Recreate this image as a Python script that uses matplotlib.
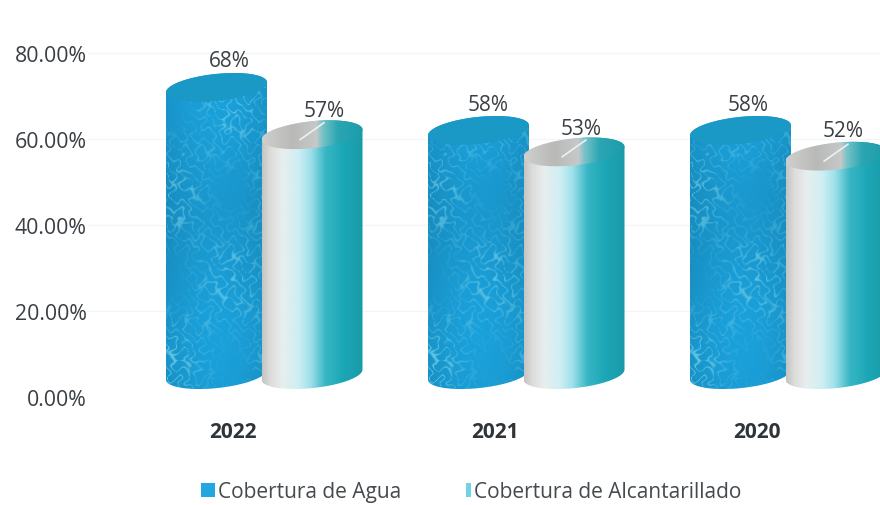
import numpy as np
import matplotlib
matplotlib.use("Agg")
import matplotlib.pyplot as plt
from matplotlib.colors import LinearSegmentedColormap
from matplotlib.patches import PathPatch, Rectangle, Patch
from matplotlib.path import Path
from matplotlib.legend_handler import HandlerPatch

years = ["2022", "2021", "2020"]
agua = [68, 58, 58]
alcantarillado = [57, 53, 52]
y_ticks = [0, 20, 40, 60, 80]
y_tick_labels = ["0.00%", "20.00%", "40.00%", "60.00%", "80.00%"]
series_names = ["Cobertura de Agua", "Cobertura de Alcantarillado"]

W, H = 880, 506
PX_PER_PCT = 4.3
PX_PER_CAT = 262.0
TEXT = "#3a3f44"
FONT = ["Open Sans", "DejaVu Sans"]

plt.rcParams["font.family"] = FONT
fig = plt.figure(figsize=(W / 100, H / 100), dpi=100)
ax = fig.add_axes([88 / W, (H - 398) / H, (W - 88) / W, 398 / H])
ax.set_xlim((88 - 233) / PX_PER_CAT, (880 - 233) / PX_PER_CAT)
ax.set_ylim(0, 398 / PX_PER_PCT)
for s in ax.spines.values():
    s.set_visible(False)

ax.set_yticks(y_ticks, y_tick_labels, fontsize=15.3, color=TEXT)
ax.set_xticks(range(len(years)), years, fontsize=15, fontweight="bold", color="#2f3438")
ax.tick_params(axis="both", length=0)
ax.tick_params(axis="x", pad=17)
ax.tick_params(axis="y", pad=1)
ax.grid(axis="y", color="#f4f5f5", lw=1)
ax.set_axisbelow(True)

teal_cmap = LinearSegmentedColormap.from_list("teal", [
    (0, "#c4c4c2"), (0.08, "#dcdcda"), (0.2, "#e8eeee"), (0.36, "#ceeef4"),
    (0.48, "#a0e0ea"), (0.63, "#38b6c5"), (0.8, "#1ca7b6"), (1, "#1b9aa8")])
teal_top = LinearSegmentedColormap.from_list("teal_top", [
    (0, "#cfcfcd"), (0.3, "#b9b9b7"), (0.54, "#c6c9c9"), (0.6, "#78c2c8"),
    (0.75, "#2ba6b2"), (1, "#1c9cab")])


def outline(xc, base, top, hw, semi=13.5, tilt=5.0):
    """Cylinder silhouette in data units."""
    t = np.linspace(0, np.pi, 60)
    xs = np.cos(t)
    up = top + (tilt * xs + semi * np.sin(t)) / PX_PER_PCT
    dn = base + (tilt * xs[::-1] - semi * np.sin(t[::-1])) / PX_PER_PCT
    px = xc + hw * xs
    return np.r_[px, px[::-1]], np.r_[up, dn]


def cap(xc, top, hw, semi=13.5, tilt=5.0):
    t = np.linspace(0, 2 * np.pi, 120)
    xs = np.cos(t)
    return xc + hw * xs, top + (tilt * xs + semi * np.sin(t)) / PX_PER_PCT


def to_path(x, y):
    return Path(np.c_[x, y], closed=False)


def water(nx, ny):
    """Fixed caustic-looking texture made of interfering waves."""
    X, Y = np.meshgrid(np.arange(nx), np.arange(ny))
    u = X + 3 * np.sin(Y / 5.0) + 2 * np.sin(Y / 2.1 + X / 7.0)
    v = Y + 3 * np.sin(X / 4.0) + 2 * np.cos(X / 2.3 - Y / 8.0)
    a = np.sin(u / 2.3) + np.sin(v / 2.7) + np.sin((u + v) / 3.9)
    ridge = np.exp(-(a / 0.35) ** 2)
    patch = 0.5 + 0.5 * np.sin(X / 19.0 + 1.3) * np.sin(Y / 27.0 + 0.4)
    band = 0.5 + 0.5 * np.sin(Y / 38.0)
    return ridge * patch, band


def blue_image(nx, ny):
    ridge, band = water(nx, ny)
    xf = np.linspace(0, 1, nx)[None, :]
    base = np.array([26, 156, 212])[None, None, :] * np.ones((ny, nx, 1))
    shade = (0.94 + 0.08 * np.sin(np.pi * xf)) * (0.96 + 0.05 * band)
    img = base * shade[..., None]
    high = np.array([125, 215, 238])
    img = img + (high - img) * ridge[..., None] * 0.75
    return np.clip(img, 0, 255).astype(np.uint8)


def draw_clipped(img, xc, hw, y0, y1, path, z):
    im = ax.imshow(img, extent=(xc - hw, xc + hw, y0, y1), origin="lower",
                   aspect="auto", zorder=z, interpolation="bilinear")
    im.set_clip_path(PathPatch(path, transform=ax.transData))
    return im


hw = 50.5 / PX_PER_CAT
off_blue = -16.5 / PX_PER_CAT
off_teal = 79.0 / PX_PER_CAT
base_y = 5.2
lift = 4.0
gradient = np.linspace(0, 1, 256)[None, :]
agua_label_dx = [9.5, 7.0, 5.5]
agua_label_dy = [24.5, 23.5, 23.5]
alc_label_dx = [8.5, 5.0, 5.0]
alc_label_dy = [22.5, 22.0, 23.5]
z = 3
for i, (a_val, c_val) in enumerate(zip(agua, alcantarillado)):
    # water cylinder
    xc = i + off_blue
    top = a_val + lift
    sx, sy = outline(xc, base_y, top, hw)
    ny = int((top - base_y + 10) * PX_PER_PCT)
    draw_clipped(blue_image(102, ny), xc, hw, base_y - 5, top + 5, to_path(sx, sy), z)
    cx, cy = cap(xc, top, hw)
    ax.fill(cx, cy, color="#1a98c6", ec="none", zorder=z + 0.5)
    ax.annotate(f"{a_val}%", (xc, a_val), xytext=(agua_label_dx[i], agua_label_dy[i]),
                textcoords="offset points", ha="center", va="bottom", fontsize=15,
                color=TEXT, zorder=9, annotation_clip=False)

    # sewer cylinder
    xc = i + off_teal
    top = c_val + lift
    sx, sy = outline(xc, base_y, top, hw)
    draw_clipped(gradient, xc, hw, base_y - 5, top + 5, to_path(sx, sy), z + 1).set_cmap(teal_cmap)
    cx, cy = cap(xc, top, hw)
    draw_clipped(gradient, xc, hw, top - 5, top + 5, to_path(cx, cy), z + 2).set_cmap(teal_top)
    ax.plot([xc - 12 / PX_PER_CAT, xc + 12 / PX_PER_CAT],
            [top - 5 / PX_PER_PCT, top + 12 / PX_PER_PCT],
            color="#e8f4f4", lw=1.2, zorder=z + 3, solid_capstyle="round")
    ax.annotate(f"{c_val}%", (xc, c_val), xytext=(alc_label_dx[i], alc_label_dy[i]),
                textcoords="offset points", ha="center", va="bottom", fontsize=15,
                color=TEXT, zorder=9, annotation_clip=False)
    z += 4


class HandlerSized(HandlerPatch):
    def __init__(self, w_pt, h_pt):
        super().__init__()
        self.w_pt, self.h_pt = w_pt, h_pt

    def create_artists(self, legend, orig, xd, yd, width, height, fontsize, trans):
        r = Rectangle((width - self.w_pt, (height - self.h_pt) / 2), self.w_pt, self.h_pt,
                      fc=orig.get_facecolor(), ec="none", transform=trans)
        return [r]


h1 = Patch(color="#23a7e0", label=series_names[0])
h2 = Patch(color="#6fd3e4", label=series_names[1])
leg = fig.legend(handles=[h1, h2], ncol=2, frameon=False, fontsize=15,
                 loc="center left", bbox_to_anchor=(199 / W, (H - 493) / H),
                 handlelength=0.75, handletextpad=0.15, columnspacing=2.62,
                 borderpad=0, borderaxespad=0,
                 labelcolor="#454a4e",
                 handler_map={h1: HandlerSized(10, 10), h2: HandlerSized(4, 10)})

fig.savefig("out.png", dpi=100, facecolor="white")
